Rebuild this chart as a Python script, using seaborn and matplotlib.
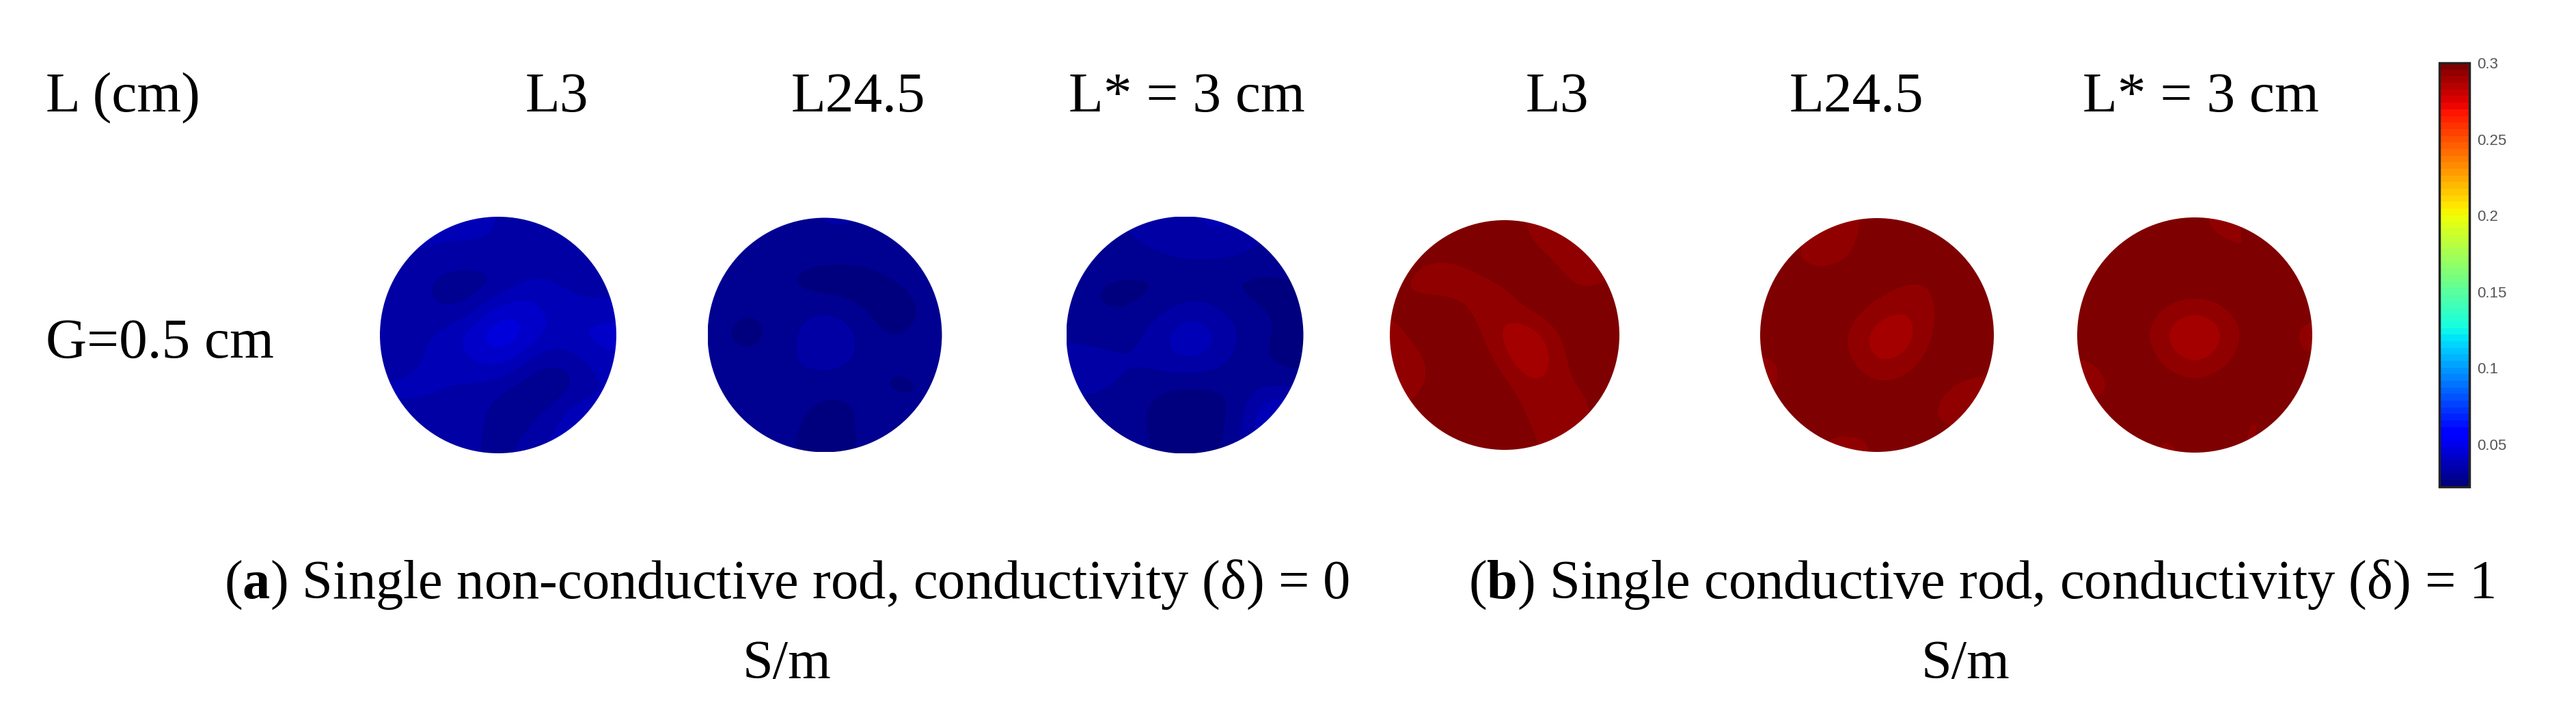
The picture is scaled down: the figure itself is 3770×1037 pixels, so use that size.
import numpy as np
import matplotlib
matplotlib.use("Agg")
import matplotlib.pyplot as plt
from matplotlib import patches
from matplotlib.colors import Normalize
from matplotlib.cm import ScalarMappable
import seaborn as sns

sns.set_theme(style="white")
plt.rcParams["font.family"] = ["Liberation Serif", "DejaVu Serif"]
plt.rcParams["text.color"] = "black"
plt.rcParams["mathtext.fontset"] = "custom"
plt.rcParams["mathtext.rm"] = "Liberation Serif"
plt.rcParams["mathtext.bf"] = "Liberation Serif:bold"

# ---- labels ----
corner_label = "L (cm)"
row_label = "G=0.5 cm"
col_labels = ["L3", "L24.5", "L* = 3 cm", "L3", "L24.5", "L* = 3 cm"]
caption_a = ["($\\mathbf{a}$) Single non-conductive rod, conductivity (δ) = 0", "S/m"]
caption_b = ["($\\mathbf{b}$) Single conductive rod, conductivity (δ) = 1", "S/m"]

# colour scale (S/m)
vmin, vmax = 0.022, 0.3
cbar_ticks = [0.05, 0.1, 0.15, 0.2, 0.25, 0.3]
cbar_ticklabels = ["0.05", "0.1", "0.15", "0.2", "0.25", "0.3"]

# ---- reconstructed conductivity maps, 9x9 (top row first) ----
nc_L3 = [
    [0.036, 0.036, 0.036, 0.036, 0.035, 0.034, 0.033, 0.032, 0.032],
    [0.035, 0.035, 0.034, 0.034, 0.034, 0.033, 0.031, 0.030, 0.030],
    [0.034, 0.032, 0.028, 0.027, 0.029, 0.035, 0.036, 0.033, 0.032],
    [0.034, 0.032, 0.030, 0.032, 0.042, 0.043, 0.038, 0.037, 0.037],
    [0.033, 0.034, 0.037, 0.043, 0.049, 0.045, 0.038, 0.040, 0.042],
    [0.033, 0.035, 0.036, 0.039, 0.042, 0.036, 0.030, 0.033, 0.038],
    [0.036, 0.036, 0.035, 0.034, 0.032, 0.027, 0.026, 0.030, 0.035],
    [0.034, 0.034, 0.034, 0.033, 0.028, 0.028, 0.032, 0.040, 0.038],
    [0.032, 0.032, 0.032, 0.031, 0.030, 0.031, 0.036, 0.038, 0.036],
]
nc_L24 = [
    [0.029, 0.029, 0.029, 0.030, 0.031, 0.031, 0.030, 0.030, 0.030],
    [0.030, 0.030, 0.029, 0.028, 0.028, 0.028, 0.029, 0.030, 0.030],
    [0.030, 0.029, 0.028, 0.025, 0.023, 0.023, 0.024, 0.027, 0.030],
    [0.029, 0.027, 0.028, 0.029, 0.030, 0.028, 0.024, 0.023, 0.028],
    [0.027, 0.023, 0.027, 0.031, 0.036, 0.032, 0.027, 0.026, 0.029],
    [0.029, 0.028, 0.029, 0.031, 0.033, 0.031, 0.028, 0.028, 0.029],
    [0.030, 0.030, 0.030, 0.029, 0.028, 0.028, 0.026, 0.024, 0.027],
    [0.030, 0.030, 0.029, 0.027, 0.024, 0.025, 0.031, 0.029, 0.027],
    [0.029, 0.029, 0.028, 0.026, 0.024, 0.025, 0.030, 0.030, 0.028],
]
nc_Lstar = [
    [0.030, 0.030, 0.031, 0.032, 0.034, 0.036, 0.035, 0.032, 0.030],
    [0.029, 0.029, 0.030, 0.031, 0.032, 0.032, 0.031, 0.029, 0.028],
    [0.027, 0.026, 0.025, 0.025, 0.026, 0.026, 0.025, 0.025, 0.026],
    [0.027, 0.026, 0.026, 0.029, 0.033, 0.032, 0.028, 0.026, 0.026],
    [0.029, 0.028, 0.029, 0.034, 0.039, 0.037, 0.031, 0.027, 0.025],
    [0.034, 0.033, 0.031, 0.033, 0.036, 0.034, 0.029, 0.026, 0.024],
    [0.031, 0.031, 0.029, 0.027, 0.025, 0.026, 0.027, 0.031, 0.030],
    [0.030, 0.029, 0.028, 0.024, 0.023, 0.023, 0.028, 0.040, 0.042],
    [0.030, 0.032, 0.029, 0.025, 0.023, 0.024, 0.030, 0.038, 0.038],
]
c_L3 = [
    [0.300, 0.300, 0.300, 0.300, 0.298, 0.295, 0.294, 0.296, 0.300],
    [0.298, 0.296, 0.296, 0.298, 0.300, 0.297, 0.295, 0.291, 0.295],
    [0.296, 0.293, 0.293, 0.294, 0.296, 0.300, 0.299, 0.294, 0.296],
    [0.296, 0.299, 0.298, 0.294, 0.292, 0.297, 0.300, 0.300, 0.299],
    [0.295, 0.300, 0.300, 0.297, 0.289, 0.287, 0.295, 0.300, 0.300],
    [0.291, 0.296, 0.300, 0.300, 0.293, 0.286, 0.292, 0.300, 0.300],
    [0.292, 0.296, 0.300, 0.300, 0.298, 0.292, 0.293, 0.296, 0.300],
    [0.296, 0.300, 0.300, 0.300, 0.299, 0.295, 0.293, 0.293, 0.298],
    [0.300, 0.300, 0.298, 0.296, 0.298, 0.296, 0.295, 0.297, 0.300],
]
c_L24 = [
    [0.300, 0.298, 0.293, 0.293, 0.300, 0.300, 0.300, 0.300, 0.300],
    [0.300, 0.294, 0.292, 0.296, 0.300, 0.300, 0.300, 0.300, 0.300],
    [0.300, 0.300, 0.300, 0.300, 0.299, 0.296, 0.295, 0.300, 0.300],
    [0.300, 0.300, 0.300, 0.298, 0.294, 0.291, 0.294, 0.300, 0.300],
    [0.300, 0.300, 0.299, 0.295, 0.288, 0.287, 0.295, 0.300, 0.300],
    [0.294, 0.300, 0.300, 0.296, 0.290, 0.292, 0.298, 0.300, 0.300],
    [0.294, 0.299, 0.300, 0.300, 0.297, 0.298, 0.300, 0.295, 0.292],
    [0.300, 0.300, 0.300, 0.300, 0.300, 0.300, 0.296, 0.291, 0.293],
    [0.300, 0.298, 0.295, 0.294, 0.296, 0.300, 0.300, 0.298, 0.300],
]
c_Lstar = [
    [0.300, 0.300, 0.300, 0.300, 0.297, 0.294, 0.296, 0.300, 0.300],
    [0.300, 0.300, 0.300, 0.300, 0.300, 0.298, 0.294, 0.297, 0.300],
    [0.297, 0.294, 0.300, 0.300, 0.299, 0.300, 0.300, 0.300, 0.300],
    [0.300, 0.300, 0.299, 0.295, 0.293, 0.295, 0.299, 0.300, 0.297],
    [0.300, 0.300, 0.297, 0.290, 0.283, 0.290, 0.297, 0.300, 0.294],
    [0.295, 0.300, 0.299, 0.294, 0.290, 0.294, 0.299, 0.300, 0.296],
    [0.292, 0.296, 0.300, 0.299, 0.298, 0.299, 0.300, 0.300, 0.300],
    [0.298, 0.300, 0.300, 0.300, 0.300, 0.300, 0.295, 0.295, 0.300],
    [0.300, 0.300, 0.297, 0.294, 0.298, 0.300, 0.294, 0.298, 0.300],
]
maps = [nc_L3, nc_L24, nc_Lstar, c_L3, c_L24, c_Lstar]

# ---- figure, laid out in pixels ----
W, H = 3770, 1037
fig = plt.figure(figsize=(W / 100, H / 100), dpi=100)
fig.patch.set_facecolor("white")

def px(x, y):
    return x / W, 1 - y / H

cmap = plt.get_cmap("jet", 64)
norm = Normalize(vmin=vmin, vmax=vmax)

disk_x = [729, 1207, 1734, 2202, 2747, 3212]
disk_d = [346, 343, 347, 336, 342, 344]
disk_y = 490

for m, cx, d in zip(maps, disk_x, disk_d):
    ax = fig.add_axes([(cx - d / 2) / W, 1 - (disk_y + d / 2) / H, d / W, d / H])
    im = ax.imshow(np.array(m), cmap=cmap, norm=norm, interpolation="bicubic",
                   extent=(0, 1, 0, 1), origin="upper")
    im.set_clip_path(patches.Circle((0.5, 0.5), 0.5, transform=ax.transData))
    ax.set_xlim(0, 1)
    ax.set_ylim(0, 1)
    ax.axis("off")

# headers
head_size = 60
fig.text(*px(67, 163), corner_label, fontsize=head_size, ha="left", va="baseline")
head_x = [815, 1256, 1737, 2279, 2717, 3221]
for lab, hx in zip(col_labels, head_x):
    fig.text(*px(hx, 163), lab, fontsize=head_size, ha="center", va="baseline")
fig.text(*px(67, 523), row_label, fontsize=head_size, ha="left", va="baseline")

# captions
cap_size = 58
fig.text(*px(1152, 875), caption_a[0], fontsize=cap_size, ha="center", va="baseline")
fig.text(*px(1152, 992), caption_a[1], fontsize=cap_size, ha="center", va="baseline")
fig.text(*px(2900, 875), caption_b[0], fontsize=cap_size, ha="center", va="baseline")
fig.text(*px(2876, 992), caption_b[1], fontsize=cap_size, ha="center", va="baseline")

# colorbar
cax = fig.add_axes([3570 / W, 1 - 712 / H, 44 / W, (712 - 92) / H])
sm = ScalarMappable(norm=norm, cmap=cmap)
cb = fig.colorbar(sm, cax=cax, ticks=cbar_ticks)
cb.set_ticklabels(cbar_ticklabels)
cb.outline.set_edgecolor("#222222")
cb.outline.set_linewidth(2.5)
cax.tick_params(axis="y", direction="in", length=6, width=1.5, color="#222222",
                labelsize=16, labelcolor="#555555", pad=8)
for t in cax.get_yticklabels():
    t.set_fontfamily(["Liberation Sans", "DejaVu Sans"])

fig.savefig("out.png", dpi=100, facecolor="white")
